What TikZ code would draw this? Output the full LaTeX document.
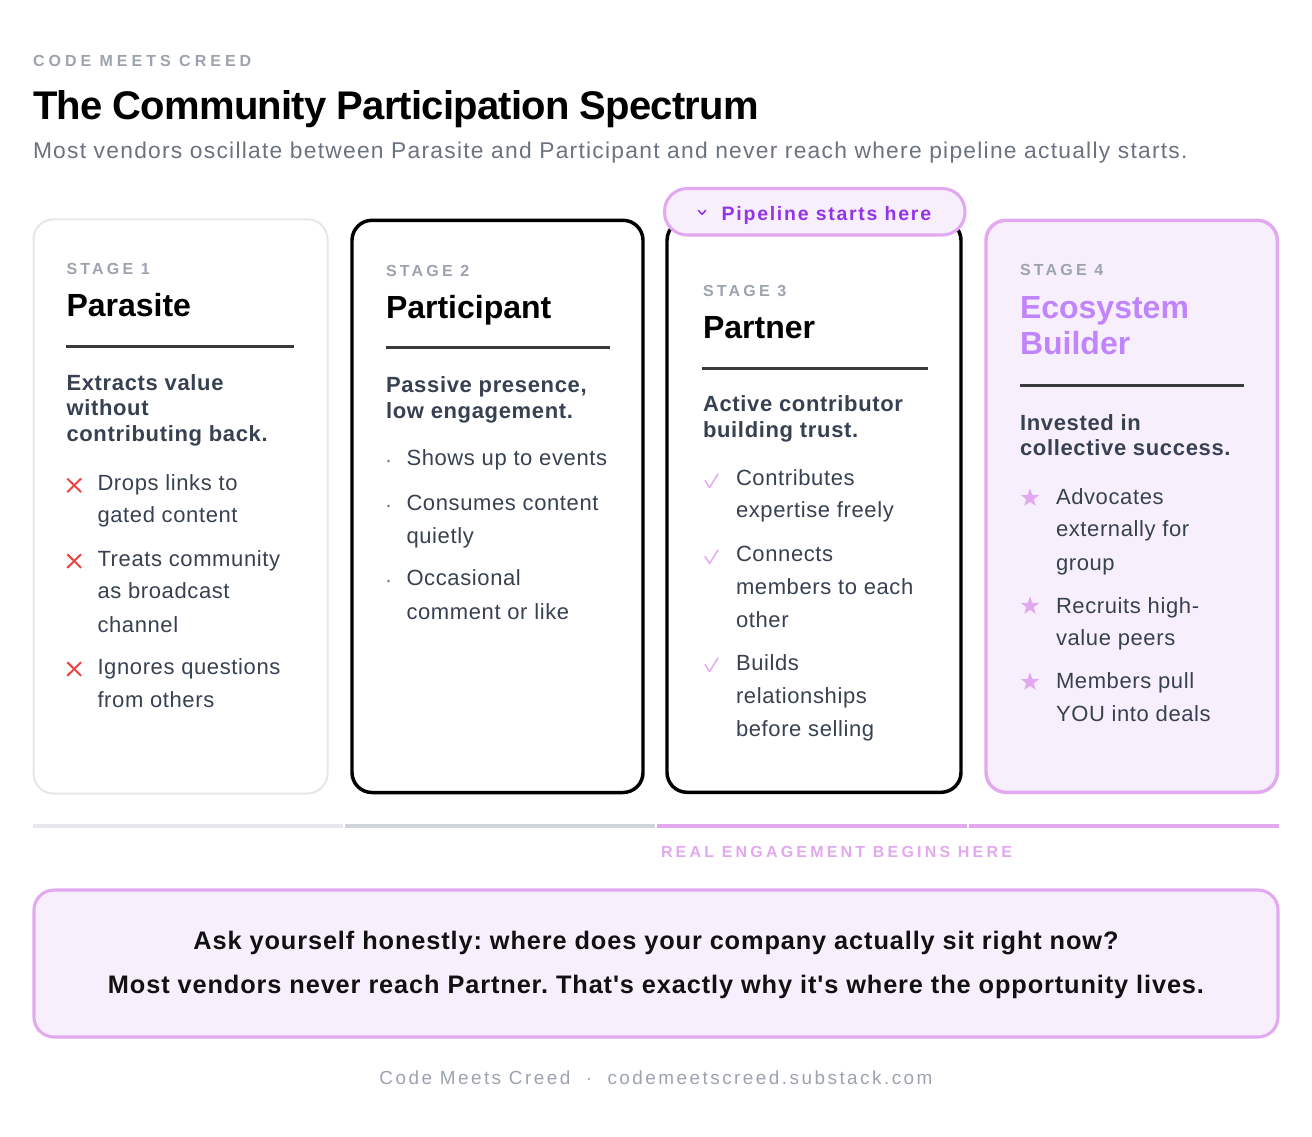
\documentclass[tikz,border=0pt]{standalone}
\usepackage{fontspec}
\setmainfont{Liberation Sans}
\newfontfamily\fHead{Liberation Sans}[LetterSpace=25]
\newfontfamily\fWide{Liberation Sans}[LetterSpace=20]
\newfontfamily\fBadge{Liberation Sans}[LetterSpace=9]
\newfontfamily\fBody{Liberation Sans}[LetterSpace=2.8]
\newfontfamily\fDesc{Liberation Sans}[LetterSpace=3]
\newfontfamily\fSub{Liberation Sans}[LetterSpace=5.5]
\newfontfamily\fBox{Liberation Sans}[LetterSpace=3.5]
\newfontfamily\fFoot{Liberation Sans}[LetterSpace=13]
\newfontfamily\fTitle{Liberation Sans}[LetterSpace=-2]
\usetikzlibrary{shapes.geometric}
\definecolor{lblgray}{HTML}{9CA3AF}
\definecolor{subgray}{HTML}{6B7280}
\definecolor{slate}{HTML}{374151}
\definecolor{lav}{HTML}{E2A9F1}
\definecolor{lavfill}{HTML}{F8EFFC}
\definecolor{purp}{HTML}{9333EA}
\definecolor{lavtext}{HTML}{C084FC}
\definecolor{redx}{HTML}{EF4444}
\definecolor{bord}{HTML}{E5E7EB}
\definecolor{segtwo}{HTML}{D1D5DB}
\definecolor{ruledark}{HTML}{3A3A3A}
\definecolor{ink}{HTML}{111111}
\frenchspacing
\begin{document}
\begin{tikzpicture}[x=0.75pt,y=-0.75pt,
  txt/.style={inner sep=0pt,outer sep=0pt,anchor=base west},
  headlbl/.style={txt,font=\fHead\bfseries\fontsize{12}{14}\selectfont,text=lblgray},
  titlestyle/.style={txt,font=\fTitle\bfseries\fontsize{30}{34}\selectfont,text=black},
  substyle/.style={txt,font=\fSub\fontsize{17.1}{20}\selectfont,text=subgray},
  stagelbl/.style={txt,font=\fWide\bfseries\fontsize{12}{14}\selectfont,text=lblgray},
  ctitle/.style={txt,font=\bfseries\fontsize{24}{28}\selectfont,text=black},
  desc/.style={txt,font=\fDesc\bfseries\fontsize{16.5}{20}\selectfont,text=slate},
  body/.style={txt,font=\fBody\fontsize{16.5}{20}\selectfont,text=slate},
  badgetxt/.style={txt,font=\fBadge\bfseries\fontsize{14.6}{17}\selectfont,text=purp},
  engtxt/.style={txt,font=\fWide\bfseries\fontsize{12}{14}\selectfont,text=lav},
  boxtxt/.style={inner sep=0pt,outer sep=0pt,anchor=base,font=\fBox\bfseries\fontsize{19}{22}\selectfont,text=ink},
  foottxt/.style={inner sep=0pt,outer sep=0pt,anchor=base,font=\fFoot\fontsize{14.2}{16}\selectfont,text=lblgray},
  card/.style={rounded corners=15pt},
  xmark/.style={draw=redx,line width=1.5pt},
  checkmark/.style={draw=lav,line width=1.1pt,line cap=round,line join=round},
  starmark/.style={star,star points=5,star point ratio=2.5,fill=lav,draw=none,inner sep=0pt,minimum size=14.5pt},
  dotmark/.style={circle,fill=subgray,inner sep=0pt,minimum size=2pt},
  seg/.style={line width=3pt}
]
\useasboundingbox (0,0) rectangle (1312,1136);
\fill[white] (0,0) rectangle (1312,1136);

% header
\node[headlbl] (hlbl) at (33,66) {CODE MEETS CREED};
\node[titlestyle] (htitle) at (33,119) {The Community Participation Spectrum};
\node[substyle] (hsub) at (33,158) {Most vendors oscillate between Parasite and Participant and never reach where pipeline actually starts.};

% cards
\draw[card,draw=bord,line width=1.5pt,fill=white] (33.5,219.3) rectangle (327.5,793.5);
\draw[card,draw=black,line width=2.6pt,fill=white] (352,220.3) rectangle (643,792.5);
\draw[card,draw=black,line width=2.6pt,fill=white] (667,220.3) rectangle (961,792.3);
\draw[card,draw=lav,line width=2.6pt,fill=lavfill] (986,220.3) rectangle (1277.3,792.3);

% badge
\draw[rounded corners=17pt,draw=lav,line width=2.3pt,fill=lavfill] (664.5,188.5) rectangle (965,235);
\draw[purp,line width=1.2pt,line cap=round,line join=round] (698.5,210.5) -- (702,214.3) -- (705.5,210.5);
\node[badgetxt] (badge) at (721.7,220) {Pipeline starts here};

% rules
\foreach \xa/\xb/\yy in {66/294/346, 386/610/347, 702/928/368, 1020/1244/385.7}{
  \draw[ruledark,line width=2.25pt] (\xa,\yy) -- (\xb,\yy);
}

% card 1
\node[stagelbl] (c1s) at (66.5,274) {STAGE 1};
\node[ctitle] (c1t) at (66.5,316.5) {Parasite};
\node[desc] (c1d1) at (66.5,390) {Extracts value};
\node[desc] (c1d2) at (66.5,415.5) {without};
\node[desc] (c1d3) at (66.5,441) {contributing back.};
\foreach \yy in {485.3,561,669}{
  \draw[xmark] (67.3,\yy-6.8) -- (81.1,\yy+6.8);
  \draw[xmark] (81.1,\yy-6.8) -- (67.3,\yy+6.8);
}
\node[body] (c1a1) at (97.5,490.5) {Drops links to};
\node[body] (c1a2) at (97.5,522.5) {gated content};
\node[body] (c1b1) at (97.5,566.5) {Treats community};
\node[body] (c1b2) at (97.5,598.5) {as broadcast};
\node[body] (c1b3) at (97.5,632) {channel};
\node[body] (c1c1) at (97.5,674) {Ignores questions};
\node[body] (c1c2) at (97.5,707) {from others};

% card 2
\node[stagelbl] (c2s) at (386,276) {STAGE 2};
\node[ctitle] (c2t) at (386,318) {Participant};
\node[desc] (c2d1) at (386,392.5) {Passive presence,};
\node[desc] (c2d2) at (386,418) {low engagement.};
\node[dotmark] (c2m1) at (388.5,461) {};
\node[dotmark] (c2m2) at (388.5,506) {};
\node[dotmark] (c2m3) at (388.5,581) {};
\node[body] (c2a1) at (406.5,465.5) {Shows up to events};
\node[body] (c2b1) at (406.5,510.5) {Consumes content};
\node[body] (c2b2) at (406.5,543.5) {quietly};
\node[body] (c2c1) at (406.5,585.5) {Occasional};
\node[body] (c2c2) at (406.5,619) {comment or like};

% card 3
\node[stagelbl] (c3s) at (703,296) {STAGE 3};
\node[ctitle] (c3t) at (703,338.3) {Partner};
\node[desc] (c3d1) at (703,411.7) {Active contributor};
\node[desc] (c3d2) at (703,437) {building trust.};
\foreach \yy in {473.5,549.5,657.5}{
  \draw[checkmark] (705,\yy+7) -- (709.5,\yy+14) -- (718,\yy+0.5);
}
\node[body] (c3a1) at (736,485.7) {Contributes};
\node[body] (c3a2) at (736,517.5) {expertise freely};
\node[body] (c3b1) at (736,561.7) {Connects};
\node[body] (c3b2) at (736,594) {members to each};
\node[body] (c3b3) at (736,627.5) {other};
\node[body] (c3c1) at (736,670) {Builds};
\node[body] (c3c2) at (736,703.5) {relationships};
\node[body] (c3c3) at (736,736) {before selling};

% card 4
\node[stagelbl] (c4s) at (1020,275.7) {STAGE 4};
\node[ctitle,text=lavtext] (c4t1) at (1020,318.3) {Ecosystem};
\node[ctitle,text=lavtext] (c4t2) at (1020,354) {Builder};
\node[desc] (c4d1) at (1020,430) {Invested in};
\node[desc] (c4d2) at (1020,455.5) {collective success.};
\node[starmark] (c4m1) at (1030,498) {};
\node[starmark] (c4m2) at (1030,606) {};
\node[starmark] (c4m3) at (1030,682) {};
\node[body] (c4a1) at (1056,504) {Advocates};
\node[body] (c4a2) at (1056,536.7) {externally for};
\node[body] (c4a3) at (1056,570) {group};
\node[body] (c4b1) at (1056,613) {Recruits high-};
\node[body] (c4b2) at (1056,645.5) {value peers};
\node[body] (c4c1) at (1056,688.3) {Members pull};
\node[body] (c4c2) at (1056,721.7) {YOU into deals};

% progress bar
\draw[seg,bord] (33,826) -- (343,826);
\draw[seg,segtwo] (345,826) -- (655,826);
\draw[seg,lav] (657,826) -- (967,826);
\draw[seg,lav] (969,826) -- (1279,826);
\node[engtxt] (eng) at (661,857.5) {REAL ENGAGEMENT BEGINS HERE};

% bottom box
\draw[rounded corners=15pt,draw=lav,line width=2.3pt,fill=lavfill] (34,890) rectangle (1278,1037);
\node[boxtxt] (q1) at (656,949) {Ask yourself honestly: where does your company actually sit right now?};
\node[boxtxt] (q2) at (656,993) {Most vendors never reach Partner. That's exactly why it's where the opportunity lives.};

% footer
\node[foottxt] (foot) at (656,1084) {Code Meets Creed \ · \ codemeetscreed.substack.com};
\end{tikzpicture}
\end{document}
